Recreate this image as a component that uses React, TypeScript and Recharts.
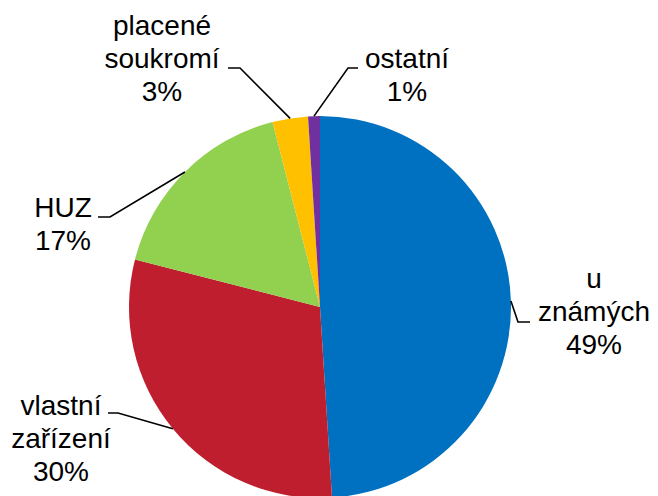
import { PieChart, Pie, Cell } from 'recharts';

const categories = ['u známých', 'vlastní zařízení', 'HUZ', 'placené soukromí', 'ostatní'];
const shares = [49, 30, 17, 3, 1];
const colors = ['#0070C0', '#BE1E2D', '#92D050', '#FFC000', '#7030A0'];

// label placement relative to pie centre: elbow of leader, end of leader, text anchor (first baseline)
const labelLayout = [
  { elbow: [198, 15], end: [210, 15], text: [274, -19] },
  { elbow: [-202, 106], end: [-212, 106], text: [-259, 108] },
  { elbow: [-210, -90], end: [-222, -90], text: [-257, -90] },
  { elbow: [-80, -239], end: [-92, -239], text: [-158, -272] },
  { elbow: [28, -239], end: [38, -239], text: [87, -239] },
];

const RAD = Math.PI / 180;
const FONT = '"Liberation Sans", Arial, sans-serif';
const LINE_H = 33;

const data = categories.map((name, i) => ({ name, value: shares[i] }));
const total = shares.reduce((s, v) => s + v, 0);

function renderLabel(props: any) {
  const { cx, cy, midAngle, outerRadius, index, name, value } = props;
  const lay = labelLayout[index];
  const sx = cx + outerRadius * Math.cos(-midAngle * RAD);
  const sy = cy + outerRadius * Math.sin(-midAngle * RAD);
  const ex = cx + lay.elbow[0];
  const ey = cy + lay.elbow[1];
  const hx = cx + lay.end[0];
  const hy = cy + lay.end[1];
  const tx = cx + lay.text[0];
  const ty = cy + lay.text[1];
  const lines = [...String(name).split(' '), `${Math.round((value / total) * 100)}%`];
  return (
    <g key={`lbl-${index}`}>
      <polyline
        points={`${sx},${sy} ${ex},${ey} ${hx},${hy}`}
        fill="none"
        stroke="#000"
        strokeWidth={1.6}
      />
      <text x={tx} y={ty} textAnchor="middle" fontFamily={FONT} fontSize={28} fill="#000">
        {lines.map((l, i) => (
          <tspan key={i} x={tx} y={ty + i * LINE_H}>
            {l}
          </tspan>
        ))}
      </text>
    </g>
  );
}

export default function App() {
  return (
    <div style={{ position: 'absolute', left: 0, top: 0, width: 658, height: 496, background: '#fff' }}>
      <PieChart width={658} height={496} margin={{ top: 0, right: 0, bottom: 0, left: 0 }}>
        <Pie
          data={data}
          dataKey="value"
          nameKey="name"
          cx={320}
          cy={307}
          outerRadius={191}
          startAngle={90}
          endAngle={-270}
          stroke="none"
          label={renderLabel}
          labelLine={false}
          isAnimationActive={false}
        >
          {data.map((d, i) => (
            <Cell key={d.name} fill={colors[i]} />
          ))}
        </Pie>
      </PieChart>
    </div>
  );
}
